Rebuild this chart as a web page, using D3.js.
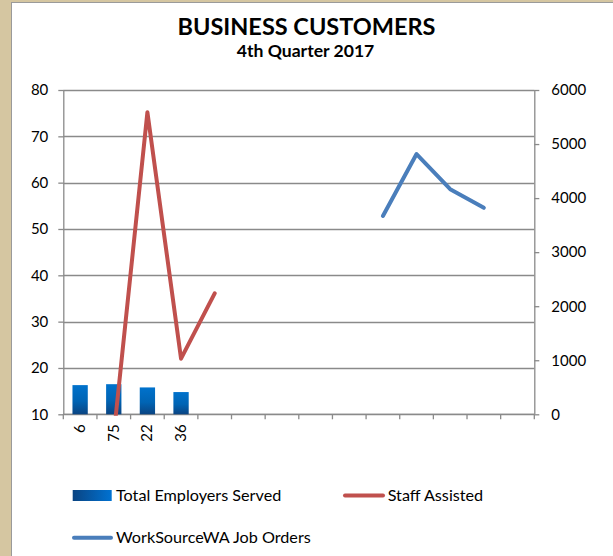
<!DOCTYPE html>
<html>
<head>
<meta charset="utf-8">
<script src="https://cdn.jsdelivr.net/npm/d3@7/dist/d3.min.js"></script>
<style>
  html, body { margin: 0; padding: 0; background: #fff; }
  svg { display: block; font-family: Lato, "Open Sans", sans-serif; }
</style>
</head>
<body>
<svg id="chart" width="613" height="556"></svg>
<script>
// ---- data ----
const categories = ["6", "75", "22", "36", "", "", "", "", "", "", "", "", "", ""];
const employersServed = [16.3, 16.5, 15.8, 14.8, null, null, null, null, null, null, null, null, null, null];
const staffAssisted = [null, 5.5, 75.2, 22.0, 36.1, null, null, null, null, null, null, null, null, null];
const jobOrders = [null, null, null, null, null, null, null, null, null, 3670, 4815, 4165, 3820, null];
const leftTicks = [10, 20, 30, 40, 50, 60, 70, 80];
const rightTicks = [0, 1000, 2000, 3000, 4000, 5000, 6000];
const seriesNames = ["Total Employers Served", "Staff Assisted", "WorkSourceWA Job Orders"];

const W = 613, H = 556;
const plot = { left: 63.3, right: 534.3, top: 90, bottom: 414.3 };
const svg = d3.select("#chart");
const gridColor = "#8a8a8a";

// frame
svg.append("rect").attr("x", 0).attr("y", 0).attr("width", W).attr("height", H).attr("fill", "#d5c6a1");
svg.append("rect").attr("x", 11.5).attr("y", 2.5).attr("width", W).attr("height", H)
  .attr("fill", "#ffffff").attr("stroke", "#9a9a9a").attr("stroke-width", 1);

// defs
const defs = svg.append("defs");
const barGrad = defs.append("linearGradient").attr("id", "barGrad")
  .attr("x1", 0).attr("y1", 0).attr("x2", 0).attr("y2", 1);
barGrad.append("stop").attr("offset", "0%").attr("stop-color", "#0072cc");
barGrad.append("stop").attr("offset", "55%").attr("stop-color", "#0064b4");
barGrad.append("stop").attr("offset", "100%").attr("stop-color", "#0a4482");
const legGrad = defs.append("linearGradient").attr("id", "legGrad")
  .attr("x1", 0).attr("y1", 0).attr("x2", 1).attr("y2", 0);
legGrad.append("stop").attr("offset", "0%").attr("stop-color", "#0a4482");
legGrad.append("stop").attr("offset", "100%").attr("stop-color", "#0072d2");
defs.append("clipPath").attr("id", "plotClip").append("rect")
  .attr("x", plot.left - 10).attr("y", plot.top - 10)
  .attr("width", plot.right - plot.left + 20).attr("height", plot.bottom - plot.top + 11.5);

// scales
const x = d3.scaleBand().domain(d3.range(categories.length)).range([plot.left, plot.right]).padding(0);
const yL = d3.scaleLinear().domain([10, 80]).range([plot.bottom, plot.top]);
const yR = d3.scaleLinear().domain([0, 6000]).range([plot.bottom, plot.top]);

// title
svg.append("text").attr("x", 306.5).attr("y", 35).attr("text-anchor", "middle")
  .attr("font-size", 23.5).attr("font-weight", 700).attr("fill", "#000").text("BUSINESS CUSTOMERS");
svg.append("text").attr("x", 305.5).attr("y", 57).attr("text-anchor", "middle")
  .attr("font-size", 17.6).attr("font-weight", 700).attr("fill", "#000").text("4th Quarter 2017");

// gridlines
svg.append("g").selectAll("line").data(leftTicks).join("line")
  .attr("x1", plot.left).attr("x2", plot.right)
  .attr("y1", d => Math.round(yL(d)) + 0.5).attr("y2", d => Math.round(yL(d)) + 0.5)
  .attr("stroke", gridColor).attr("stroke-width", 1.3);

// axes
const axL = svg.append("g").attr("transform", `translate(${plot.left},0)`)
  .call(d3.axisLeft(yL).tickValues(leftTicks).tickSize(5).tickPadding(10).tickFormat(d3.format("d")));
const axR = svg.append("g").attr("transform", `translate(${plot.right},0)`)
  .call(d3.axisRight(yR).tickValues(rightTicks).tickSize(5).tickPadding(12).tickFormat(d3.format("d")));
const xTickVals = d3.range(categories.length + 1);
const axX = svg.append("g").attr("transform", `translate(0,${plot.bottom})`);
axX.append("line").attr("x1", plot.left).attr("x2", plot.right).attr("y1", 0).attr("y2", 0)
  .attr("stroke", gridColor).attr("stroke-width", 1.3);
axX.selectAll("line.tk").data(xTickVals).join("line").attr("class", "tk")
  .attr("x1", i => plot.left + i * x.bandwidth()).attr("x2", i => plot.left + i * x.bandwidth())
  .attr("y1", 0).attr("y2", 5).attr("stroke", gridColor).attr("stroke-width", 1.3);
axX.selectAll("text").data(d3.range(categories.length)).join("text")
  .attr("transform", i => `translate(${x(i) + x.bandwidth() / 2 + 5},10) rotate(-90)`)
  .attr("text-anchor", "end").attr("font-size", 15).attr("fill", "#000")
  .text(i => categories[i]);

[axL, axR].forEach(ax => {
  ax.select(".domain").attr("stroke", gridColor).attr("stroke-width", 1.3);
  ax.selectAll(".tick line").attr("stroke", gridColor).attr("stroke-width", 1.3);
  ax.selectAll(".tick text").attr("font-size", 15).attr("font-family", "Lato, 'Open Sans', sans-serif").attr("fill", "#000");
});
axL.select(".domain").attr("d", `M0.5,${plot.top}V${plot.bottom}`);
axR.select(".domain").attr("d", `M0.5,${plot.top}V${plot.bottom}`);

// bars
const barW = x.bandwidth() * 0.455;
svg.append("g").selectAll("rect").data(employersServed.map((v, i) => ({ v, i })).filter(d => d.v != null))
  .join("rect")
  .attr("x", d => x(d.i) + (x.bandwidth() - barW) / 2)
  .attr("y", d => yL(d.v)).attr("width", barW).attr("height", d => plot.bottom - yL(d.v))
  .attr("fill", "url(#barGrad)");

// lines
const cx = i => x(i) + x.bandwidth() / 2;
const gLines = svg.append("g").attr("clip-path", "url(#plotClip)");
gLines.append("path")
  .datum(staffAssisted.map((v, i) => ({ v, i })).filter(d => d.v != null))
  .attr("d", d3.line().x(d => cx(d.i)).y(d => yL(d.v)))
  .attr("fill", "none").attr("stroke", "#c0504d").attr("stroke-width", 4)
  .attr("stroke-linejoin", "round").attr("stroke-linecap", "round");
gLines.append("path")
  .datum(jobOrders.map((v, i) => ({ v, i })).filter(d => d.v != null))
  .attr("d", d3.line().x(d => cx(d.i)).y(d => yR(d.v)))
  .attr("fill", "none").attr("stroke", "#4a7ebb").attr("stroke-width", 4)
  .attr("stroke-linejoin", "round").attr("stroke-linecap", "round");

// legend
const leg = svg.append("g").attr("font-size", 16.2).attr("fill", "#000");
leg.append("rect").attr("x", 72.7).attr("y", 490).attr("width", 39).attr("height", 11).attr("fill", "url(#legGrad)");
leg.append("text").attr("x", 116).attr("y", 500.7).text(seriesNames[0]);
leg.append("line").attr("x1", 345).attr("x2", 383).attr("y1", 495.5).attr("y2", 495.5)
  .attr("stroke", "#c0504d").attr("stroke-width", 4).attr("stroke-linecap", "round");
leg.append("text").attr("x", 387.7).attr("y", 500.7).text(seriesNames[1]);
leg.append("line").attr("x1", 74).attr("x2", 111).attr("y1", 537.7).attr("y2", 537.7)
  .attr("stroke", "#4a7ebb").attr("stroke-width", 4).attr("stroke-linecap", "round");
leg.append("text").attr("x", 116).attr("y", 542.7).text(seriesNames[2]);
</script>
</body>
</html>
